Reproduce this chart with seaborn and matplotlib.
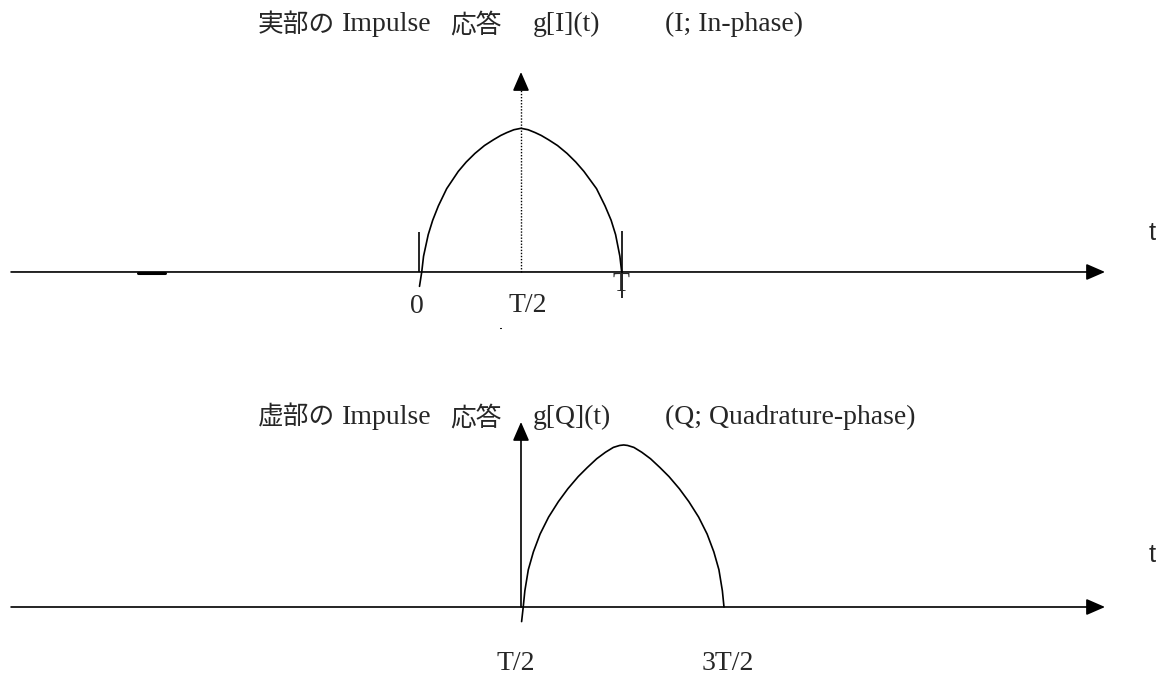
import numpy as np
import matplotlib
matplotlib.use("Agg")
import matplotlib.pyplot as plt
import seaborn as sns
import pandas as pd

sns.set_style("white")
plt.rcParams['font.family'] = ['Liberation Serif', 'Noto Sans CJK JP']

# time in units of T, amplitude normalised to the peak
top_t = [0.0, 0.011, 0.02, 0.043, 0.065, 0.093, 0.134, 0.191, 0.23, 0.273, 0.32,
         0.364, 0.40, 0.43, 0.465, 0.5, 0.535, 0.57, 0.60, 0.636, 0.68, 0.727,
         0.77, 0.81, 0.872, 0.914, 0.944, 0.966, 0.987, 0.996]
top_g = [-0.10, 0.0, 0.11, 0.26, 0.36, 0.46, 0.58, 0.70, 0.765, 0.825, 0.88,
         0.92, 0.95, 0.97, 0.99, 1.0, 0.99, 0.97, 0.95, 0.92, 0.88, 0.825,
         0.765, 0.70, 0.58, 0.46, 0.36, 0.26, 0.11, 0.0]

bot_t = [0.503, 0.511, 0.519, 0.536, 0.561, 0.594, 0.636, 0.684, 0.731, 0.782,
         0.826, 0.873, 0.916, 0.955, 0.986, 1.006, 1.025, 1.056, 1.095, 1.138,
         1.185, 1.229, 1.28, 1.327, 1.375, 1.417, 1.45, 1.475, 1.492, 1.5]
bot_g = [-0.09, 0.0, 0.10, 0.23, 0.34, 0.45, 0.555, 0.65, 0.73, 0.805,
         0.86, 0.915, 0.955, 0.985, 0.997, 1.0, 0.997, 0.985, 0.955, 0.915,
         0.86, 0.805, 0.73, 0.65, 0.555, 0.45, 0.34, 0.23, 0.10, 0.0]

top_title = ["実部の", "Impulse", "応答", "g[I](t)", "(I; In-phase)"]
bot_title = ["虚部の", "Impulse", "応答", "g[Q](t)", "(Q; Quadrature-phase)"]
title_t = [-0.796, -0.382, 0.150, 0.559, 1.209]
title_cjk = [True, False, True, False, False]

top_labels = ["0", "T/2", "T"]
top_label_t = [-0.015, 0.535, 0.993]
top_label_g = [-0.24, -0.23, -0.09]

bot_labels = ["T/2", "3T/2"]
bot_label_t = [0.475, 1.519]
bot_label_g = [-0.35, -0.35]

# short vertical marks at 0 and T in the upper panel
mark_t = [0.0, 1.0]
mark_lo = [0.0, -0.18]
mark_hi = [0.28, 0.285]

XLIM = (-2.0665, 3.6429)
AX_START, AX_END = -2.012, 3.377
LW = 1.2
FS = 20
FS_CJK = 18.5


def arrow(ax, start, end, **kw):
    ax.annotate("", xy=end, xytext=start,
                arrowprops=dict(arrowstyle="-|>,head_length=1.15,head_width=0.5",
                                mutation_scale=10, color="black", lw=LW,
                                shrinkA=0, shrinkB=0, **kw))


def title(ax, parts, y):
    for lab, x, cjk in zip(parts, title_t, title_cjk):
        ax.text(x, y, lab, ha='left', va='center',
                fontsize=FS_CJK if cjk else FS)


fig = plt.figure(figsize=(11.59, 6.77), dpi=100)
ax1 = fig.add_axes([0, 0.5, 1, 0.5])
ax2 = fig.add_axes([0, 0.0, 1, 0.5])

# upper panel: in-phase response
df1 = pd.DataFrame({'t': top_t, 'g': top_g})
sns.lineplot(data=df1, x='t', y='g', ax=ax1, sort=False, estimator=None,
             color='black', lw=LW, solid_joinstyle='round')
arrow(ax1, (AX_START, 0), (AX_END, 0))
ax1.plot([0.5, 0.5], [0, 1.3], color='black', lw=1.0, ls=(0, (1, 1.2)))
arrow(ax1, (0.5, 1.28), (0.5, 1.392))
ax1.vlines(mark_t, mark_lo, mark_hi, color='black', lw=LW)
ax1.plot([-1.387, -1.254], [-0.008, -0.008], color='black', lw=2.2)
ax1.plot([0.395, 0.402], [-0.39, -0.39], color='black', lw=0.8)
for lab, x, y in zip(top_labels, top_label_t, top_label_g):
    ax1.text(x, y, lab, ha='center', va='center', fontsize=FS)
ax1.text(3.608, 0.27, "t", ha='center', va='center', fontsize=18.5,
         family=['Liberation Sans'])
title(ax1, top_title, 1.72)
ax1.set_xlim(*XLIM)
ax1.set_ylim(-0.463, 1.893)

# lower panel: quadrature response
df2 = pd.DataFrame({'t': bot_t, 'g': bot_g})
sns.lineplot(data=df2, x='t', y='g', ax=ax2, sort=False, estimator=None,
             color='black', lw=LW, solid_joinstyle='round')
arrow(ax2, (AX_START, 0), (AX_END, 0))
arrow(ax2, (0.5, 0), (0.5, 1.142))
for lab, x, y in zip(bot_labels, bot_label_t, bot_label_g):
    ax2.text(x, y, lab, ha='center', va='center', fontsize=FS)
ax2.text(3.608, 0.32, "t", ha='center', va='center', fontsize=18.5,
         family=['Liberation Sans'])
title(ax2, bot_title, 1.167)
ax2.set_xlim(*XLIM)
ax2.set_ylim(-0.432, 1.657)

for ax in (ax1, ax2):
    ax.axis('off')
    if ax.get_legend():
        ax.get_legend().remove()

fig.savefig('out.png', dpi=100)
